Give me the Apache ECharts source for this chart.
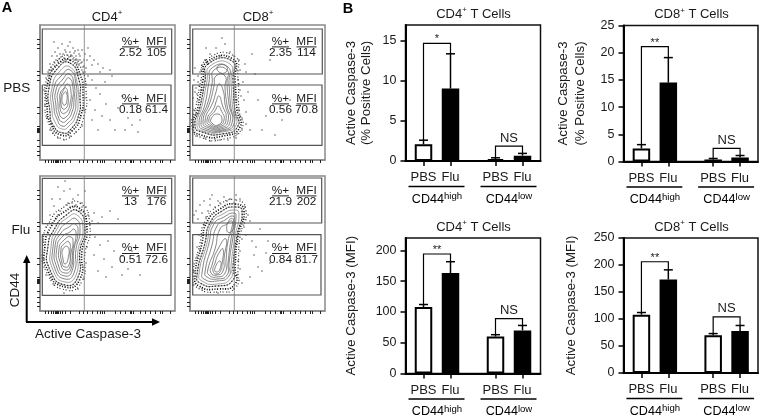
<!DOCTYPE html>
<html><head><meta charset="utf-8">
<style>html,body{margin:0;padding:0;background:#fff}#c{width:761px;height:419px}#c canvas{filter:blur(.35px)}</style>
<script src="https://cdn.jsdelivr.net/npm/echarts@6/dist/echarts.min.js"></script>
</head><body><div id="c"></div>
<script>
// ---------- bar panels data ----------
const categories = ['PBS','Flu','PBS','Flu'];
const groups = ['high','low'];
const cd4PctMean = [2.1,9.05,0.25,0.67];
const cd4PctHi   = [2.6,13.4,0.4,0.95];
const cd8PctMean = [2.4,14.5,0.37,0.75];
const cd8PctHi   = [3.1,19.1,0.55,1.1];
const cd4MfiMean = [108,163,60,70];
const cd4MfiHi   = [112,181.5,63,78];
const cd8MfiMean = [108,173,70,78];
const cd8MfiHi   = [112,191,73,88];
const cd4PctTicks = [0,5,10,15];
const cd8PctTicks = [0,5,10,15,20,25];
const cd4MfiTicks = [0,50,100,150,200];
const cd8MfiTicks = [0,50,100,150,200,250];
const bracketHigh = [14.7,21.1,194,206];
const bracketLow  = [1.85,2.4,89,104];
const sigMarks = ['*','**','**','**'];
const nsMark = 'NS';
// ---------- flow panels data (axis channels 0-135) ----------
const pctUpper = ['2.52','2.35','13','21.9'];
const mfiUpper = ['105','114','176','202'];
const pctLower = ['0.18','0.56','0.51','0.84'];
const mfiLower = ['61.4','70.8','72.6','81.7'];
const flowXTicks = [5,8,11,13,15,16,17,18,20,22,25,30,39,43,47,52,57,60,62,64,75,80,85,90,91,93,100,105,110,115,120,122,130];
const flowYTicks = [5,8.6,14,20,28,29,30,31,32,34,47,52.6,80,85,88.6,112,116,121];
const cd4PbsHalo = [[30,104],[41,92],[46,70],[44,44],[34,26],[20,22],[9,36],[5,62],[8,84],[18,100]];
const cd4PbsRing = [[30,100],[40,86],[43,66],[41,45],[32,29],[21,25],[11,36],[7,55],[8,78],[18,96]];
const cd4PbsContours = [
 [[30,97],[39,80],[40,62],[39,46],[31,31],[23,27],[13,35],[10,48],[9,72],[18,92]],
 [[30,93],[37,78],[38,60],[36,45],[29,34],[22,31],[15,38],[12,50],[12,72],[20,89]],
 [[30,90],[36,76],[36,60],[34,46],[28,37],[22,34],[17,41],[14,52],[14,72],[22,85]],
 [[29,86],[34,76],[34,60],[32,48],[27,40],[22,38],[18,44],[16,54],[16,70],[23,81]],
 [[29,82],[33,72],[32,58],[30,49],[26,43],[22,42],[19,48],[18,56],[18,68],[24,77]],
 [[28,76],[31,68],[30,56],[28,50],[25,47],[22,47],[20,52],[20,58],[20,66],[24,72]],
 [[26,72],[28,64],[28,56],[26,52],[23,51],[21,56],[21,63],[23,69]],
 [[26,68],[27,60],[25,55],[23,56],[22,62],[24,67]]];
const cd4PbsDots = [[14,118],[18,112],[20,106],[22,116],[25,110],[28,114],[30,108],[33,112],[36,104],[38,110],[40,104],[42,110],[45,106],[47,100],[12,104],[16,100],[10,96],[24,102],[27,105],[32,104],[35,100],[38,100],[42,98],[44,94],[46,92],[15,108],[30,118],[48,112],[50,104],[52,95],[8,88],[6,82],[4,70],[5,55],[7,42],[10,30],[13,27],[18,22],[24,20],[30,24],[36,28],[42,34],[44,50],[45,62],[46,76],[48,84],[54,100],[58,96],[60,88],[63,92],[70,90],[52,80],[56,72],[60,66],[65,78],[72,84],[55,50],[62,44],[70,40],[78,52],[88,42],[92,35],[98,28],[85,30],[75,30],[66,56],[82,64],[100,40],[58,30],[52,40],[50,60],[19,101],[23,106],[26,100],[29,103],[34,107],[37,97],[40,100],[43,88],[21,98],[15,94],[12,90],[17,104],[21,103],[24,99],[28,101],[31,105],[33,101],[36,100],[39,95],[41,97],[43,93],[45,88],[14,98],[11,93],[9,90],[26,108],[35,109],[39,106],[44,100],[18,98]];
const cd8PbsHalo = [[16,100],[44,104],[48,80],[49,50],[52,32],[34,21],[10,23],[2,33],[6,54],[11,80]];
const cd8PbsRing = [[17,98],[43,101],[45,80],[47,50],[50,33],[33,24],[11,25],[3,33],[8,53],[13,80]];
const cd8PbsContours = [
 [[18,96],[42,99],[43,79],[45,49],[48,34],[32,26],[12,28],[5,34],[10,53],[15,79]],
 [[20,94],[40,96],[41,78],[43,50],[46,35],[32,28],[13,29],[7,35],[12,54],[17,79]],
 [[22,92],[38,93],[39,76],[41,52],[44,36],[32,29],[15,30],[9,36],[15,56],[19,78]],
 [[24,90],[37,90],[37,76],[39,56],[42,37],[32,30],[17,31],[11,37],[18,58],[22,76]],
 [[26,84],[35,84],[35,72],[37,55],[40,38],[31,31],[19,32],[13,38],[20,58],[24,74]],
 [[29,76],[33,70],[35,56],[38,39],[30,32],[20,33],[15,39],[23,58],[26,68]],
 [[29,64],[32,56],[36,40],[29,33],[21,34],[17,40],[24,52],[26,58]],
 [[28,54],[31,50],[34,40],[28,34],[22,35],[19,41],[25,49]],
 [[28,46],[32,40],[28,35],[23,36],[21,41]],
 [[28,94],[36,94],[36,88],[29,88]]];
const cd8PbsDots = [[6,72],[8,78],[10,88],[4,80],[12,95],[15,100],[20,106],[26,112],[30,104],[40,108],[44,104],[49,100],[50,90],[48,80],[50,70],[47,60],[49,50],[52,42],[52,30],[46,22],[38,20],[25,21],[15,22],[6,24],[3,34],[6,46],[8,60],[12,70],[3,62],[5,92],[16,112],[35,116],[32,122],[55,96],[56,88],[53,78],[54,60],[56,48],[56,36],[60,30],[65,86],[68,60],[72,30],[80,100],[92,40],[76,44],[62,106],[58,68],[100,60],[85,25],[8,84],[11,90],[7,66],[9,74],[5,68],[4,50],[47,90],[49,76],[51,64],[50,44],[47,26],[30,20],[20,19]];
const cd4FluHalo = [[40,108],[50,84],[45,58],[42,30],[26,21],[7,38],[3,66],[10,90],[24,104]];
const cd4FluRing = [[39,103],[47,82],[42,60],[40,32],[25,24],[8,40],[5,65],[12,86],[24,99]];
const cd4FluContours = [
 [[38,100],[45,81],[40,61],[38,34],[25,26],[10,41],[8,65],[15,83],[25,95]],
 [[37,96],[43,81],[38,61],[36,36],[25,29],[13,41],[11,64],[17,82],[27,93]],
 [[36,92],[40,80],[36,62],[34,38],[25,32],[15,42],[13,64],[19,80],[28,89]],
 [[35,87],[38,78],[34,62],[32,40],[25,35],[17,43],[15,64],[21,78],[29,84]],
 [[34,82],[36,75],[33,62],[31,42],[25,38],[19,44],[17,64],[23,75],[30,79]],
 [[31,74],[33,68],[31,58],[30,44],[25,41],[21,46],[19,62],[24,71]],
 [[29,69],[30,58],[29,46],[25,44],[22,48],[21,62],[24,67]],
 [[28,64],[28,52],[25,47],[23,52],[23,62]]];
const cd4FluDots = [[14,105],[20,112],[24,120],[28,108],[33,112],[38,116],[42,108],[46,104],[48,96],[52,90],[50,76],[47,64],[46,48],[44,32],[38,22],[24,18],[14,26],[6,36],[4,52],[3,70],[6,84],[10,96],[16,92],[30,104],[36,106],[40,100],[54,98],[58,88],[62,94],[70,100],[78,92],[55,74],[60,66],[68,70],[74,60],[82,55],[88,42],[72,44],[64,52],[58,40],[54,56],[92,60],[100,36],[82,36],[66,34],[12,112],[18,124],[25,130],[30,122],[45,120],[20,100],[26,106],[32,108],[44,100],[46,92],[50,86],[12,88],[8,78],[18,96],[34,104],[42,104]];
const cd8FluHalo = [[46,111],[56,100],[50,74],[48,42],[46,24],[28,19],[8,23],[3,34],[10,68],[15,90],[28,105]];
const cd8FluRing = [[45,107],[54,100],[48,75],[45,44],[45,27],[28,22],[9,25],[5,35],[12,68],[17,89],[30,102]];
const cd8FluContours = [
 [[45,104],[52,100],[47,75],[43,45],[43,31],[27,25],[10,28],[7,36],[15,68],[20,88],[32,100]],
 [[45,101],[49,97],[45,74],[41,45],[41,33],[27,27],[12,30],[9,37],[17,68],[22,88],[33,97]],
 [[44,98],[46,94],[43,74],[39,47],[39,35],[27,30],[14,32],[12,38],[19,68],[24,87],[34,94]],
 [[43,95],[44,90],[41,72],[38,48],[37,36],[27,32],[17,34],[15,39],[22,66],[27,85],[35,91]],
 [[42,90],[42,84],[38,70],[36,50],[35,38],[27,34],[19,36],[18,42],[25,62],[30,82],[37,87]],
 [[36,72],[34,52],[33,40],[27,36],[21,38],[22,46],[28,62]],
 [[33,62],[32,46],[31,41],[27,37],[23,40],[25,48],[29,58]],
 [[30,50],[30,42],[26,39],[25,43]],
 [[40,92],[44,90],[42,80],[37,80]]];
const cd8FluDots = [[6,100],[10,106],[14,110],[20,112],[28,110],[34,114],[40,112],[50,112],[55,104],[58,96],[54,84],[52,72],[50,60],[48,50],[47,36],[44,22],[28,18],[12,22],[3,26],[4,40],[7,54],[10,62],[12,76],[14,86],[8,92],[18,100],[25,104],[16,94],[60,90],[56,76],[62,70],[70,82],[64,56],[68,44],[72,40],[76,58],[60,34],[52,28],[78,70],[80,48],[66,64],[4,96],[22,116],[46,116],[50,42],[12,98],[20,106],[9,76],[7,64],[30,108],[37,110],[44,108],[53,92]];

// ---------- layout / helpers ----------
const FONT='Liberation Sans', INK='#1a1a1a';
const slots=[2,5,10,13];
const xCats=Array(16).fill(''); slots.forEach((s,i)=>xCats[s]=categories[i]);
const grid=[],xAxis=[],yAxis=[],series=[],title=[];
const supRich={a:{fontSize:13,fontWeight:'normal',fontFamily:FONT,color:INK,lineHeight:16},b:{fontSize:8,fontWeight:'normal',fontFamily:FONT,color:INK,verticalAlign:'top',lineHeight:11}};
const groupRich={a:{fontSize:12.6,fontFamily:FONT,color:INK,lineHeight:16},b:{fontSize:9.6,fontFamily:FONT,color:INK,verticalAlign:'top',lineHeight:11}};
function addTitle(x,y,text){title.push({text,left:x,top:y,textAlign:'center',padding:0,textStyle:{rich:supRich,fontFamily:FONT,fontWeight:'normal'}});}

function addBarPanel(i,cfg){
  const g=grid.length;
  grid.push({left:cfg.left,top:cfg.top,width:135,height:cfg.height,show:true,borderColor:'#111',borderWidth:1.5,backgroundColor:'transparent'});
  xAxis.push({gridIndex:g,type:'category',boundaryGap:false,data:xCats,
    axisLine:{lineStyle:{color:'#000',width:2}},
    axisTick:{length:5,interval:(k,v)=>v!=='',lineStyle:{color:'#000',width:1.5}},
    axisLabel:{interval:0,margin:10,fontSize:13,fontFamily:FONT,color:INK},splitLine:{show:false}});
  yAxis.push({gridIndex:g,type:'value',min:0,max:cfg.max,
    axisLine:{show:true,lineStyle:{color:'#000',width:2}},
    axisTick:{show:true,length:5,customValues:cfg.ticks,lineStyle:{color:'#000',width:1.5}},
    axisLabel:{customValues:cfg.ticks,margin:9,fontSize:12.5,fontFamily:FONT,color:INK},splitLine:{show:false},
    name:cfg.name,nameLocation:'middle',nameRotate:90,nameGap:cfg.nameGap,
    nameTextStyle:{fontSize:13.3,fontFamily:FONT,color:INK,lineHeight:cfg.lineHeight||15}});
  const pick=(arr,idx)=>{const o=Array(16).fill(null);idx.forEach(n=>o[slots[n]]=arr[n]);return o;};
  const base={type:'bar',xAxisIndex:g,yAxisIndex:g,barWidth:17.5,barGap:'-100%',silent:true};
  series.push(Object.assign({},base,{name:'PBS',data:pick(cfg.mean,[0,2]),itemStyle:{color:'#fff',borderColor:'#000',borderWidth:2}}));
  series.push(Object.assign({},base,{name:'Flu',data:pick(cfg.mean,[1,3]),itemStyle:{color:'#000',borderColor:'#000',borderWidth:2}}));
  series.push({type:'custom',xAxisIndex:g,yAxisIndex:g,silent:true,z:5,clip:false,
    data:slots.map((s,n)=>[s,cfg.mean[n],cfg.hi[n]]),
    renderItem(p,api){
      const a=api.coord([api.value(0),api.value(1)]),b=api.coord([api.value(0),api.value(2)]);
      const st={stroke:'#000',lineWidth:1.5};
      return {type:'group',children:[
        {type:'line',shape:{x1:a[0],y1:a[1],x2:b[0],y2:b[1]},style:st},
        {type:'line',shape:{x1:b[0]-4.5,y1:b[1],x2:b[0]+4.5,y2:b[1]},style:st}]};
    }});
  // brackets, significance text, group rules
  series.push({type:'custom',xAxisIndex:g,yAxisIndex:g,silent:true,z:6,clip:false,data:[[0]],
    renderItem(p,api){
      const kids=[];const st={stroke:'#000',lineWidth:1.2,fill:'none'};
      [[0,1,cfg.bh,cfg.sig,11,-4],[2,3,cfg.bl,nsMark,13,-8]].forEach(([m,n,top,txt,fs,dy])=>{
        const A=api.coord([slots[m],cfg.hi[m]]),B=api.coord([slots[m],top]),C=api.coord([slots[n],top]),D=api.coord([slots[n],cfg.hi[n]]);
        kids.push({type:'polyline',shape:{points:[A,B,C,D]},style:st});
        kids.push({type:'text',style:{text:txt,x:(B[0]+C[0])/2,y:B[1]+dy,align:'center',verticalAlign:'middle',fontSize:fs,fontFamily:FONT,fill:INK}});
      });
      groups.forEach((gr,k)=>{
        const L=api.coord([slots[k*2],0]),R=api.coord([slots[k*2+1],0]);
        kids.push({type:'line',shape:{x1:L[0]-15,y1:L[1]+25.5,x2:R[0]+14,y2:L[1]+25.5},style:{stroke:'#000',lineWidth:1.3}});
        kids.push({type:'text',style:{text:'{a|CD44}{b|'+gr+'}',rich:groupRich,x:(L[0]+R[0])/2,y:L[1]+38.5,align:'center',verticalAlign:'middle'}});
      });
      return {type:'group',children:kids};
    }});
  addTitle(cfg.left+68,cfg.top-19,cfg.title);
}

function addFlowPanel(i,cfg){
  const g=grid.length;
  grid.push({left:cfg.left,top:cfg.top,width:135,height:135,show:true,borderColor:'#8a8a8a',borderWidth:1.5,backgroundColor:'transparent'});
  const tick={show:true,length:3,lineStyle:{color:'#222',width:1}};
  xAxis.push({gridIndex:g,type:'value',min:0,max:135,axisLine:{show:true,onZero:false,lineStyle:{color:'#8a8a8a',width:1.5}},
    axisTick:Object.assign({customValues:flowXTicks},tick),axisLabel:{show:false},splitLine:{show:false}});
  yAxis.push({gridIndex:g,type:'value',min:0,max:135,axisLine:{show:true,onZero:false,lineStyle:{color:'#8a8a8a',width:1.5}},
    axisTick:Object.assign({customValues:flowYTicks},tick),axisLabel:{show:false},splitLine:{show:false}});
  series.push({type:'scatter',xAxisIndex:g,yAxisIndex:g,silent:true,symbolSize:1.6,data:cfg.dots,itemStyle:{color:'#333'},z:2});
  series.push({type:'custom',xAxisIndex:g,yAxisIndex:g,silent:true,z:3,clip:false,data:[[0]],
    renderItem(p,api){
      const kids=[];
      const pts=a=>a.map(q=>api.coord(q));
      kids.push({type:'polygon',shape:{points:pts(cfg.halo),smooth:.6},style:{fill:'none',stroke:'#333',lineWidth:1.2,lineDash:[1,2.6,1,1.6]}});
      kids.push({type:'polygon',shape:{points:pts(cfg.ring),smooth:.6},style:{fill:'none',stroke:'#111',lineWidth:1.7,lineDash:[1.1,1.5]}});
      cfg.contours.forEach((c,k)=>kids.push({type:'polygon',shape:{points:pts(c),smooth:.6},style:{fill:k===0?'#fff':'none',stroke:k<2?'#8c8c8c':'#666',lineWidth:.8}}));
      kids.push({type:'polygon',shape:{points:pts(cfg.contours[0]),smooth:.6},style:{fill:'none',stroke:'#222',lineWidth:1.2,lineDash:[1.2,1.8]}});
      const rect=(x0,x1,y0,y1)=>{const a=api.coord([x0,y1]),b=api.coord([x1,y0]);
        kids.push({type:'rect',shape:{x:a[0],y:a[1],width:b[0]-a[0],height:b[1]-a[1]},style:{fill:'none',stroke:'#555',lineWidth:1.2}});};
      rect(...cfg.up);rect(...cfg.lo);
      const v0=api.coord([44.3,0]),v1=api.coord([44.3,135]);
      kids.push({type:'line',shape:{x1:v0[0],y1:v0[1],x2:v1[0],y2:v1[1]},style:{stroke:'#777',lineWidth:.8}});
      [[cfg.yU,pctUpper[i],mfiUpper[i]],[cfg.yL,pctLower[i],mfiLower[i]]].forEach(([y,pc,mf])=>{
        [[90.5,'%+',pc,17],[116.5,'MFI',mf,20]].forEach(([x,h,val,w])=>{
          const P=api.coord([x,y]);
          const ts={align:'center',verticalAlign:'middle',fontSize:11.8,fontFamily:FONT,fill:INK};
          kids.push({type:'text',style:Object.assign({text:h,x:P[0],y:P[1]},ts)});
          kids.push({type:'line',shape:{x1:P[0]-w/2,y1:P[1]+5.5,x2:P[0]+w/2,y2:P[1]+5.5},style:{stroke:'#222',lineWidth:1}});
          kids.push({type:'text',style:Object.assign({text:val,x:P[0],y:P[1]+11.5},ts)});
        });
      });
      return {type:'group',children:kids};
    }});
}

// flow panels
addFlowPanel(0,{left:40,top:25,halo:cd4PbsHalo,ring:cd4PbsRing,contours:cd4PbsContours,dots:cd4PbsDots,up:[2.3,131.7,86,131],lo:[2.3,131,14.6,75],yU:118.6,yL:61.6});
addFlowPanel(1,{left:190,top:25,halo:cd8PbsHalo,ring:cd8PbsRing,contours:cd8PbsContours,dots:cd8PbsDots,up:[2.7,132.3,86,131],lo:[2.7,132,14.6,75],yU:118.6,yL:61.6});
addFlowPanel(2,{left:40,top:176,halo:cd4FluHalo,ring:cd4FluRing,contours:cd4FluContours,dots:cd4FluDots,up:[2.3,131.7,87.3,132.6],lo:[2.3,131,15.6,76.3],yU:120.6,yL:63});
addFlowPanel(3,{left:190,top:176,halo:cd8FluHalo,ring:cd8FluRing,contours:cd8FluContours,dots:cd8FluDots,up:[2.7,131.7,88,133],lo:[2.7,131,16,76.3],yU:120.6,yL:63});
// bar panels
const TOP1='Active Caspase-3\n(% Positive Cells)', TOP2='Active Caspase-3 (MFI)';
addBarPanel(0,{left:405.5,top:25,height:136,max:17,ticks:cd4PctTicks,mean:cd4PctMean,hi:cd4PctHi,bh:bracketHigh[0],bl:bracketLow[0],sig:sigMarks[0],name:TOP1,nameGap:32,title:'{a|CD4}{b|+}{a| T Cells}'});
addBarPanel(1,{left:623.5,top:25.5,height:136,max:25,ticks:cd8PctTicks,mean:cd8PctMean,hi:cd8PctHi,bh:bracketHigh[1],bl:bracketLow[1],sig:sigMarks[1],name:TOP1,nameGap:35,lineHeight:17,title:'{a|CD8}{b|+}{a| T Cells}'});
addBarPanel(2,{left:405.5,top:238,height:135.5,max:220,ticks:cd4MfiTicks,mean:cd4MfiMean,hi:cd4MfiHi,bh:bracketHigh[2],bl:bracketLow[2],sig:sigMarks[2],name:TOP2,nameGap:47,title:'{a|CD4}{b|+}{a| T Cells}'});
addBarPanel(3,{left:623.5,top:238,height:135,max:250,ticks:cd8MfiTicks,mean:cd8MfiMean,hi:cd8MfiHi,bh:bracketHigh[3],bl:bracketLow[3],sig:sigMarks[3],name:TOP2,nameGap:45,title:'{a|CD8}{b|+}{a| T Cells}'});
addTitle(107,9,'{a|CD4}{b|+}');
addTitle(258,9,'{a|CD8}{b|+}');

const txt=(text,x,y,o={})=>({type:'text',x,y,rotation:o.rot||0,style:Object.assign({text,align:'center',verticalAlign:'middle',fontSize:13.5,fontFamily:FONT,fill:INK},o.s||{})});
const graphic=[
  txt('A',7,8,{s:{fontWeight:'bold',fontSize:14.5,fill:'#000'}}),
  txt('B',348,9,{s:{fontWeight:'bold',fontSize:14.5,fill:'#000'}}),
  txt('PBS',16.7,88),
  txt('Flu',21,230),
  txt('CD44',15,290,{rot:Math.PI/2}),
  txt('Active Caspase-3',88,334),
  {type:'line',shape:{x1:26.7,y1:322,x2:26.7,y2:260},style:{stroke:'#000',lineWidth:2}},
  {type:'line',shape:{x1:26,y1:322,x2:154,y2:322},style:{stroke:'#000',lineWidth:2}},
  {type:'polygon',shape:{points:[[26.7,255],[23,263],[30.4,263]]},style:{fill:'#000'}},
  {type:'polygon',shape:{points:[[160,322],[152,318.3],[152,325.7]]},style:{fill:'#000'}}
];
const chart=echarts.init(document.getElementById('c'),null,{renderer:'canvas',width:761,height:419});
chart.setOption({animation:false,backgroundColor:'#fff',tooltip:{show:false},title,grid,xAxis,yAxis,series,graphic});
</script></body></html>
